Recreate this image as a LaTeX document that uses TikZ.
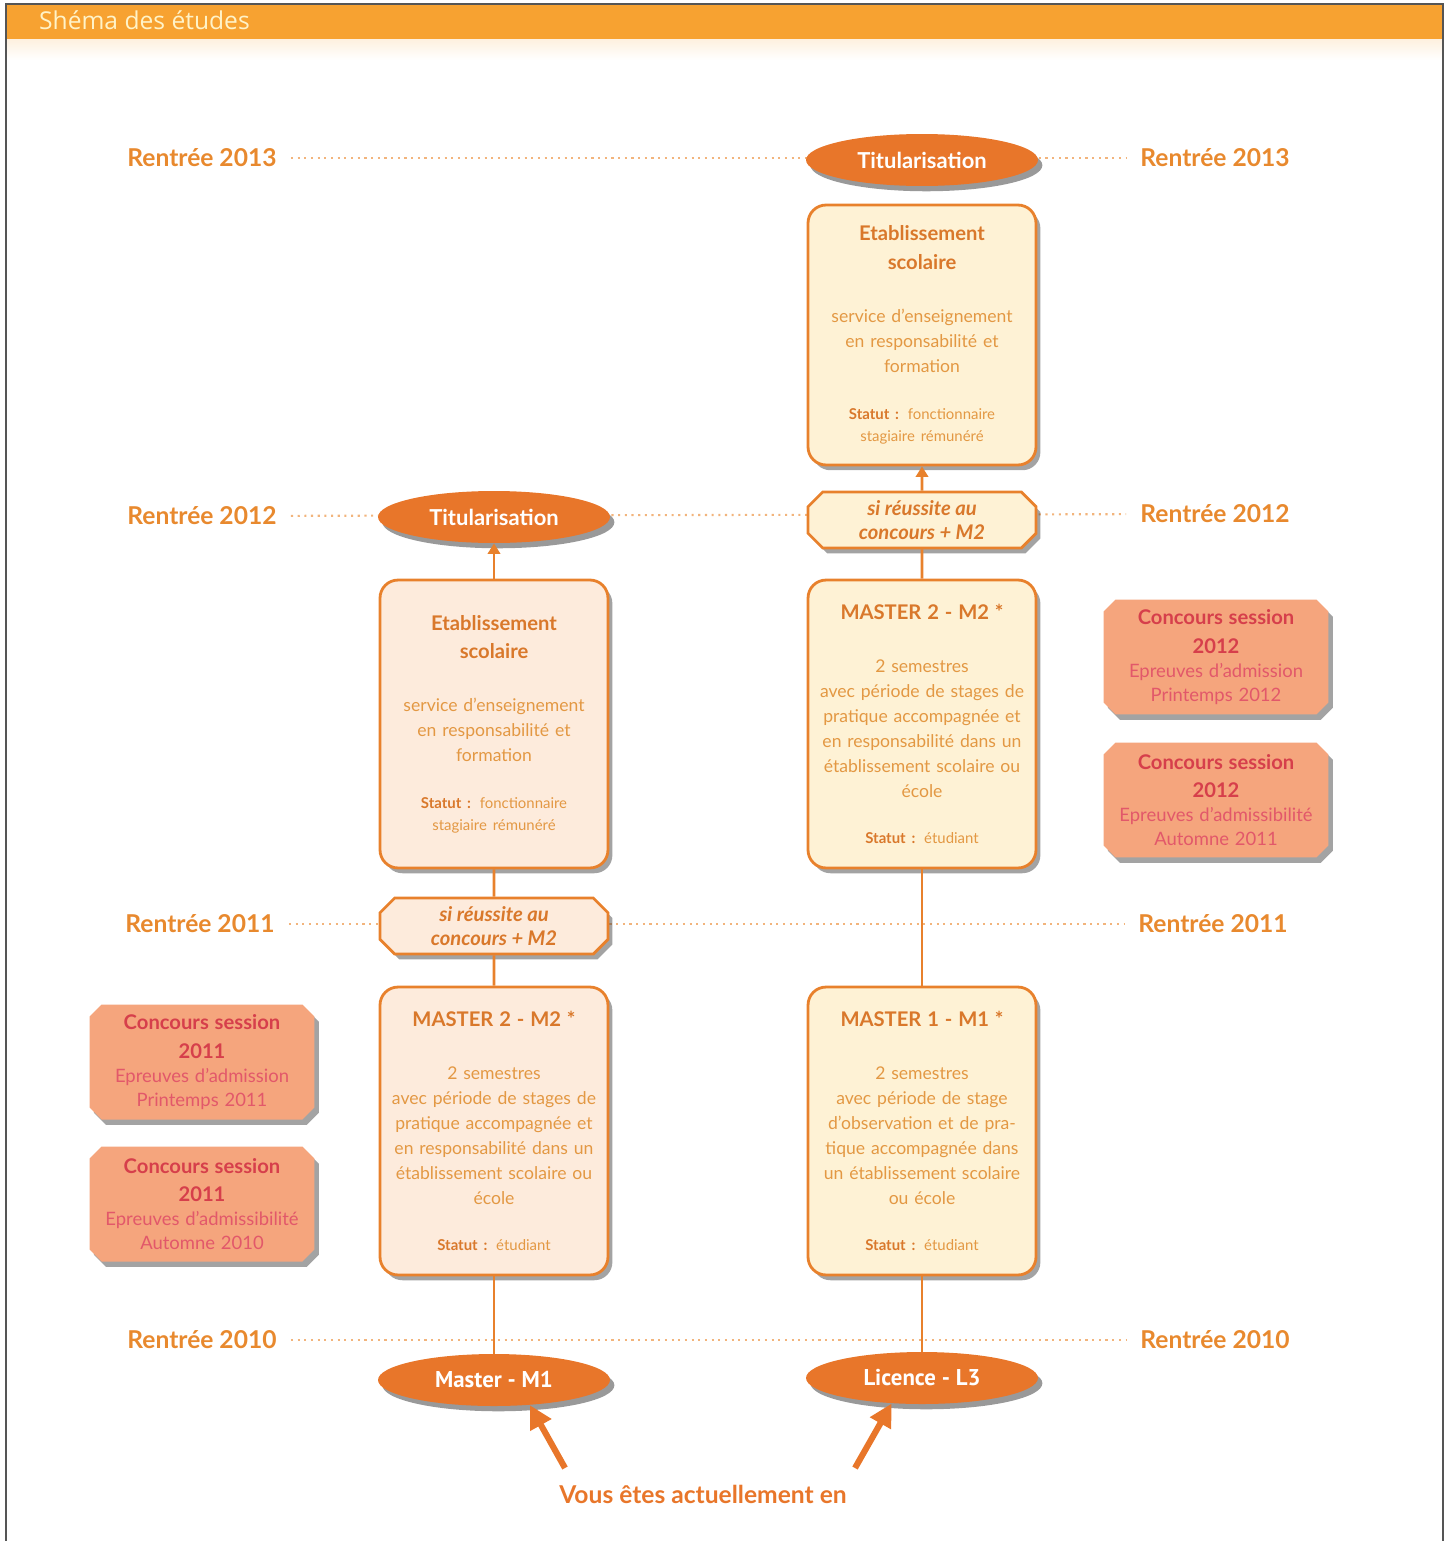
\documentclass[tikz,border=0pt]{standalone}
\usepackage{fontspec}
\setmainfont{Lato}
\newfontfamily\ptsans{PT Sans}
\newfontfamily\opensans{Open Sans}
\usetikzlibrary{shapes.geometric,shapes.misc,shadows,arrows.meta}
\definecolor{headband}{HTML}{F7A231}
\definecolor{framegray}{HTML}{555555}
\definecolor{titlepale}{HTML}{FFF3C8}
\definecolor{labelor}{HTML}{E8892E}
\definecolor{dotor}{HTML}{F2B47C}
\definecolor{lineor}{HTML}{E8812C}
\definecolor{ellipor}{HTML}{E8762A}
\definecolor{heador}{HTML}{D9782B}
\definecolor{textor}{HTML}{E39843}
\definecolor{fillright}{HTML}{FEF2D5}
\definecolor{fillleft}{HTML}{FDEBDC}
\definecolor{concfill}{HTML}{F5A57D}
\definecolor{conchead}{HTML}{D63F4B}
\definecolor{conctext}{HTML}{E2586A}
\newcommand{\boxhead}[1]{{\fontsize{11.5}{16.4}\selectfont\bfseries\color{heador}#1\par}}
\newcommand{\boxtext}[1]{{\vspace{16pt}\fontsize{10}{14.2}\selectfont\color{textor}#1\par}}
\newcommand{\boxstatut}[1]{{\vspace{14pt}\fontsize{8.5}{12.5}\selectfont\color{textor}{\bfseries\color{heador}Statut :} #1\par}}
\newcommand{\conctitle}[1]{{\fontsize{11.5}{16.4}\selectfont\bfseries\color{conchead}#1\par}}
\newcommand{\conctext}[1]{{\fontsize{10.5}{13.6}\selectfont\color{conctext}#1\par}}
\begin{document}
\begin{tikzpicture}
[x=0.02cm,y=-0.02cm,
  labeldecorate/.style={font=\fontsize{14}{16}\selectfont\bfseries,text=labelor,inner sep=8pt},
  dotdecorate/.style={-,dotor,line width=1.2pt,dash pattern=on 1.2pt off 2.6pt},
  ellipsedecorate/.style={shape=ellipse,fill=ellipor,text=white,inner sep=0pt,
    minimum width=4.64cm,minimum height=1.04cm,
    drop shadow={shadow xshift=2.5pt,shadow yshift=-3pt,fill=black!80,opacity=.5}},
  boxdecorate/.style={shape=rectangle,rounded corners=0.36cm,draw=lineor,line width=1.6pt,
    fill=fillright,minimum width=4.56cm,text width=4.4cm,inner sep=0.08cm,align=center,
    drop shadow={shadow xshift=2.5pt,shadow yshift=-3pt,fill=black!80,opacity=.45}},
  chamferdecorate/.style={shape=chamfered rectangle,chamfered rectangle xsep=5pt,
    draw=lineor,line width=1.6pt,fill=fillright,minimum width=4.56cm,minimum height=1.12cm,
    inner sep=0pt,align=center,text=heador,
    font=\fontsize{11.5}{14}\selectfont\bfseries\itshape,
    drop shadow={shadow xshift=2.5pt,shadow yshift=-3pt,fill=black!80,opacity=.45}},
  concoursdecorate/.style={shape=chamfered rectangle,chamfered rectangle xsep=3.5pt,
    fill=concfill,minimum width=4.5cm,minimum height=2.3cm,text width=4.1cm,
    inner sep=0.05cm,align=center,
    drop shadow={shadow xshift=2.5pt,shadow yshift=-3pt,fill=black!80,opacity=.45}},
  linedecorate/.style={-,lineor,line width=1.6pt},
  arrowdecorate/.style={-{Triangle[length=6pt,width=7pt]},lineor,line width=1.6pt},
  bigarrowdecorate/.style={-{Triangle[length=13pt,width=13pt]},ellipor,line width=3.5pt}]
\useasboundingbox (0,0) rectangle (1450,1541);
% frame and header
\fill[headband] (7,5) rectangle (1442,40);
\shade[top color=headband!15,bottom color=white] (7,40) rectangle (1442,60);
\draw[framegray,line width=1pt] (6,4) rectangle (1443,1580);
\node (title) at (33,20) [anchor=west,text=titlepale,font=\opensans\fontsize{14}{16}\selectfont] {Shéma des études};
% year labels
\node (r13l) at (202,158) [labeldecorate] {Rentrée 2013};
\node (r13r) at (1215,158) [labeldecorate] {Rentrée 2013};
\node (r12l) at (202,516) [labeldecorate] {Rentrée 2012};
\node (r12r) at (1215,514) [labeldecorate] {Rentrée 2012};
\node (r11l) at (200,924) [labeldecorate] {Rentrée 2011};
\node (r11r) at (1213,924) [labeldecorate] {Rentrée 2011};
\node (r10l) at (202,1340) [labeldecorate] {Rentrée 2010};
\node (r10r) at (1215,1340) [labeldecorate] {Rentrée 2010};
% dotted year lines
\path
(r13l) edge[dotdecorate] (r13r)
(r12l) edge[dotdecorate] (r12r)
(r11l) edge[dotdecorate] (r11r)
(r10l) edge[dotdecorate] (r10r);
% right column
\node (tit2) at (922,160) [ellipsedecorate,font=\fontsize{12.5}{14}\selectfont\bfseries] {Titularisation};
\node (etab2) at (922,335) [boxdecorate,minimum height=5.2cm] {\boxhead{Etablissement\\ scolaire}\boxtext{service d'enseignement\\ en responsabilité et\\ formation}\boxstatut{fonctionnaire\\ stagiaire rémunéré}};
\node (ok2) at (922,520) [chamferdecorate] {si réussite au\\ concours + M2};
\node (m22) at (922,724) [boxdecorate,minimum height=5.76cm] {\boxhead{MASTER 2 - M2 *}\boxtext{2 semestres\\ avec période de stages de\\ pratique accompagnée et\\ en responsabilité dans un\\ établissement scolaire ou\\ école}\boxstatut{étudiant}};
\node (m12) at (922,1131) [boxdecorate,minimum height=5.76cm] {\boxhead{MASTER 1 - M1 *}\boxtext{2 semestres\\ avec période de stage\\ d'observation et de pra-\\ tique accompagnée dans\\ un établissement scolaire\\ ou école}\boxstatut{étudiant}};
\node (l3) at (922,1378) [ellipsedecorate,font=\ptsans\fontsize{13}{15}\selectfont\bfseries] {Licence - L3};
% left column
\node (tit1) at (494,517) [ellipsedecorate,font=\fontsize{12.5}{14}\selectfont\bfseries] {Titularisation};
\node (etab1) at (494,724) [boxdecorate,fill=fillleft,minimum height=5.76cm] {\boxhead{Etablissement\\ scolaire}\boxtext{service d'enseignement\\ en responsabilité et\\ formation}\boxstatut{fonctionnaire\\ stagiaire rémunéré}};
\node (ok1) at (494,926) [chamferdecorate,fill=fillleft] {si réussite au\\ concours + M2};
\node (m21) at (494,1131) [boxdecorate,fill=fillleft,minimum height=5.76cm] {\boxhead{MASTER 2 - M2 *}\boxtext{2 semestres\\ avec période de stages de\\ pratique accompagnée et\\ en responsabilité dans un\\ établissement scolaire ou\\ école}\boxstatut{étudiant}};
\node (m1l) at (494,1380) [ellipsedecorate,font=\ptsans\fontsize{13}{15}\selectfont\bfseries] {Master - M1};
% concours
\node (c12b) at (1216,657) [concoursdecorate] {\conctitle{Concours session\\ 2012}\conctext{Epreuves d'admission\\ Printemps 2012}};
\node (c12a) at (1216,800) [concoursdecorate] {\conctitle{Concours session\\ 2012}\conctext{Epreuves d'admissibilité\\ Automne 2011}};
\node (c11b) at (202,1062) [concoursdecorate] {\conctitle{Concours session\\ 2011}\conctext{Epreuves d'admission\\ Printemps 2011}};
\node (c11a) at (202,1204) [concoursdecorate] {\conctitle{Concours session\\ 2011}\conctext{Epreuves d'admissibilité\\ Automne 2010}};
% you are here
\node (now) at (703,1494) [text=ellipor,font=\fontsize{14}{16}\selectfont\bfseries] {Vous êtes actuellement en};
\coordinate (now1) at (565,1468);
\coordinate (now2) at (855,1468);
% edges or lines
\path
(l3) edge[linedecorate] (m12)
(m12) edge[linedecorate] (m22)
(m22) edge[linedecorate] (ok2)
(ok2) edge[arrowdecorate] (etab2)
(m1l) edge[linedecorate] (m21)
(m21) edge[linedecorate] (ok1)
(ok1) edge[linedecorate] (etab1)
(etab1) edge[arrowdecorate] (tit1)
(now1) edge[bigarrowdecorate] (m1l.-35)
(now2) edge[bigarrowdecorate] (l3.-140);
\end{tikzpicture}
\end{document}
